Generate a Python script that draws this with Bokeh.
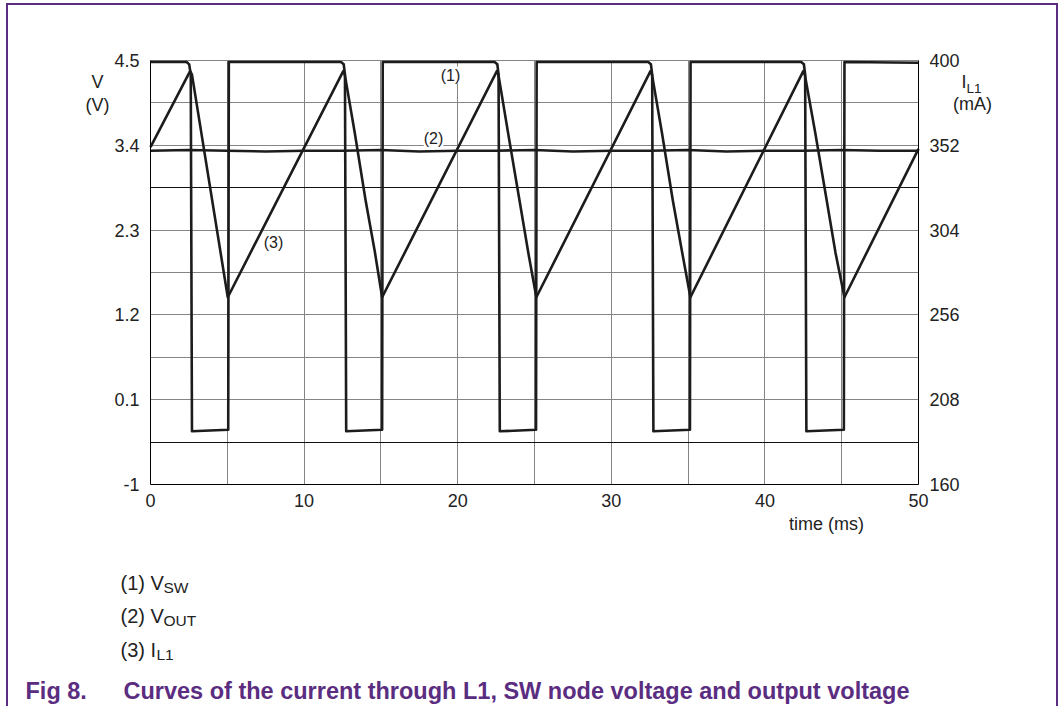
from bokeh.plotting import figure
from bokeh.models import Range1d, LinearAxis, FixedTicker, Label, Grid
from bokeh.embed import file_html
from bokeh.resources import INLINE

# ---------------- data ----------------
time_ticks = [0, 10, 20, 30, 40, 50]
v_ticks = [-1, 0.1, 1.2, 2.3, 3.4, 4.5]
v_tick_labels = ["-1", "0.1", "1.2", "2.3", "3.4", "4.5"]
ma_ticks = [160, 208, 256, 304, 352, 400]
grid_t = [5, 10, 15, 20, 25, 30, 35, 40, 45]
grid_v = [-0.45, 0.1, 0.65, 1.2, 1.75, 2.3, 2.85, 3.4, 3.95, 4.5]
grid_v_dark = [-0.45, 2.85]

# (1) V_SW  (V)
vsw_t = [0.0, 2.35, 2.52, 2.62, 2.70, 5.06, 5.10,
         12.40, 12.58, 12.66, 12.74, 15.08, 15.12,
         22.40, 22.58, 22.66, 22.74, 25.10, 25.14,
         32.40, 32.58, 32.66, 32.74, 35.12, 35.16,
         42.36, 42.54, 42.62, 42.70, 45.14, 45.18, 50.0]
vsw_v = [4.48, 4.48, 4.45, 4.32, -0.31, -0.29, 4.48,
         4.48, 4.45, 4.32, -0.31, -0.29, 4.48,
         4.48, 4.45, 4.32, -0.31, -0.29, 4.48,
         4.48, 4.45, 4.32, -0.31, -0.29, 4.48,
         4.48, 4.45, 4.32, -0.31, -0.29, 4.48, 4.47]

# (2) V_OUT  (V)
vout_t = [0, 2.5, 5, 7.5, 10, 12.5, 15, 17.5, 20, 22.5, 25,
          27.5, 30, 32.5, 35, 37.5, 40, 42.5, 45, 47.5, 50]
vout_v = [3.33, 3.34, 3.33, 3.32, 3.33, 3.33, 3.34, 3.32, 3.33, 3.33, 3.34,
          3.32, 3.33, 3.33, 3.34, 3.32, 3.33, 3.33, 3.34, 3.33, 3.33]

# (3) I_L1  (mA)
il_t = [0.0, 2.58, 2.70, 5.03,
        12.55, 12.65, 13.30, 14.00, 14.60, 15.08,
        22.55, 22.65, 23.30, 24.00, 24.60, 25.12,
        32.55, 32.65, 33.30, 34.00, 34.60, 35.15,
        42.50, 42.60, 43.30, 44.00, 44.60, 45.18, 50.0]
il_ma = [351, 394, 392, 266,
         394, 392, 359, 321, 292, 266,
         394, 392, 358, 322, 291, 266,
         394, 392, 359, 321, 292, 266,
         394, 392, 358, 322, 291, 266, 350]

# ---------------- layout geometry (page pixels) ----------------
T0, T1 = 0.0, 50.0
V0, V1 = -1.0, 4.5
MA0, MA1 = 160.0, 400.0
PX_T0, PX_T1 = 150, 918     # x of t=0 / t=50
PY_V1, PY_V0 = 60, 484      # y of 4.5 V / -1 V
CAN_L, CAN_T, CAN_R, CAN_B = 8, 5, 1060, 708


def tx(px):
    return T0 + (px - PX_T0) * (T1 - T0) / (PX_T1 - PX_T0)


def vy(py):
    return V1 - (py - PY_V1) * (V1 - V0) / (PY_V0 - PY_V1)


def ma_of_v(v):
    return MA0 + (v - V0) * (MA1 - MA0) / (V1 - V0)


FONT = "Liberation Sans"
TXT = "#222222"
PURPLE = "#5a2d81"
LINE = "#1c1c1c"

p = figure(width=CAN_R - CAN_L, height=CAN_B - CAN_T,
           x_range=Range1d(tx(CAN_L), tx(CAN_R)),
           y_range=Range1d(vy(CAN_B), vy(CAN_T)),
           output_backend="svg", toolbar_location=None,
           min_border=0, min_border_left=0, min_border_right=0,
           min_border_top=0, min_border_bottom=0)
p.extra_y_ranges = {"ma": Range1d(ma_of_v(vy(CAN_B)), ma_of_v(vy(CAN_T)))}
p.background_fill_color = "white"
p.border_fill_color = "white"
p.outline_line_color = None
p.styles = {"border-top": f"2px solid {PURPLE}",
            "border-left": f"2px solid {PURPLE}",
            "border-right": f"2px solid {PURPLE}",
            "margin-left": "6px", "margin-top": "3px"}

# axes (library axes, drawn at fixed data positions)
xa = p.xaxis[0]
xa.ticker = FixedTicker(ticks=time_ticks)
xa.fixed_location = V0
xa.bounds = (T0, T1)
ya = p.yaxis[0]
ya.ticker = FixedTicker(ticks=v_ticks)
ya.major_label_overrides = {v: s for v, s in zip(v_ticks, v_tick_labels)}
ya.fixed_location = T0
ya.bounds = (V0, V1)
ra = LinearAxis(y_range_name="ma", ticker=FixedTicker(ticks=ma_ticks))
ra.fixed_location = T1
ra.bounds = (MA0, MA1)
p.add_layout(ra, "right")

for ax, so in ((xa, 9), (ya, 11), (ra, 11)):
    ax.axis_line_color = "black"
    ax.axis_line_width = 1
    ax.major_tick_line_color = None
    ax.minor_tick_line_color = None
    ax.major_tick_out = 0
    ax.major_tick_in = 0
    ax.major_label_standoff = so
    ax.major_label_text_font = FONT
    ax.major_label_text_font_size = "18px"
    ax.major_label_text_color = TXT

# grids, limited to the chart box
has_cross = "cross_bounds" in Grid.properties()
if has_cross:
    p.xgrid.ticker = FixedTicker(ticks=grid_t)
    p.xgrid.cross_bounds = (V0, V1)
    p.xgrid.grid_line_color = "#858585"
    p.ygrid.ticker = FixedTicker(ticks=grid_v)
    p.ygrid.cross_bounds = (T0, T1)
    p.ygrid.grid_line_color = "#858585"
    p.add_layout(Grid(dimension=1, ticker=FixedTicker(ticks=grid_v_dark),
                      cross_bounds=(T0, T1),
                      grid_line_color="#111111", grid_line_width=1))
else:
    p.xgrid.grid_line_color = None
    p.ygrid.grid_line_color = None
    p.segment(x0=grid_t, x1=grid_t, y0=[V0] * len(grid_t), y1=[V1] * len(grid_t),
              line_color="#858585", line_width=1)
    p.segment(x0=[T0] * len(grid_v), x1=[T1] * len(grid_v), y0=grid_v, y1=grid_v,
              line_color=["#111111" if g in grid_v_dark else "#858585" for g in grid_v],
              line_width=1)

# curves
p.line(vout_t, vout_v, line_color=LINE, line_width=2.6, line_join="round")
p.line(il_t, il_ma, y_range_name="ma", line_color=LINE, line_width=2.6, line_join="round")
p.line(vsw_t, vsw_v, line_color=LINE, line_width=2.6, line_join="round")


def lab(px, py, text, size="18px", align="center", color=TXT, bold=False, bg=None):
    kw = dict(x=tx(px), y=vy(py), text=text, text_font=FONT, text_font_size=size,
              text_align=align, text_baseline="middle", text_color=color)
    if bold:
        kw["text_font_style"] = "bold"
    if bg:
        kw["background_fill_color"] = bg
    p.add_layout(Label(**kw))


# curve labels
lab(450, 74.5, "(1)", size="16px", bg="white")
lab(433, 138, "(2)", size="16px", bg="white")
lab(273, 242, "(3)", size="16px")

# axis titles
lab(97, 81, "V")
lab(97, 104, "(V)")
lab(963.5, 81, "I")
lab(966, 88, "L1", size="13.5px", align="left")
lab(972, 103, "(mA)")
lab(826, 523, "time (ms)")

# legend
lab(120, 582, "(1) V", size="20px", align="left")
lab(163, 587, "SW", size="15.5px", align="left")
lab(120, 615, "(2) V", size="20px", align="left")
lab(163, 620, "OUT", size="15.5px", align="left")
lab(120, 649, "(3) I", size="20px", align="left")
lab(156, 654, "L1", size="15.5px", align="left")

# caption
lab(25, 690, "Fig 8.", size="23.5px", align="left", color=PURPLE, bold=True)
lab(123, 690, "Curves of the current through L1, SW node voltage and output voltage",
    size="23.5px", align="left", color=PURPLE, bold=True)

open("out.html", "w").write(file_html(p, INLINE))
